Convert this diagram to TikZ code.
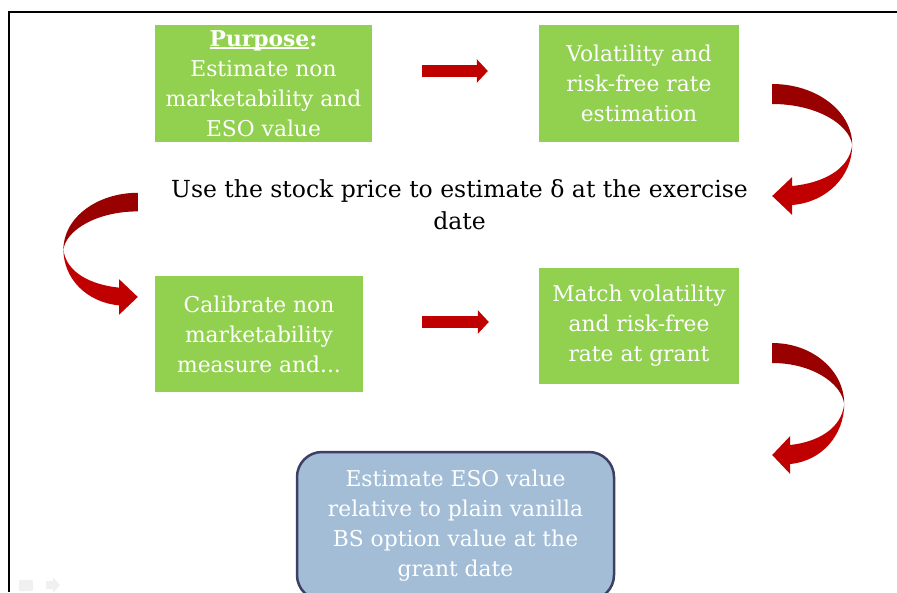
\documentclass[tikz,border=0pt]{standalone}
\usepackage{fontspec}
\setmainfont{DejaVu Serif}
\usepackage{tikz}
\usetikzlibrary{arrows.meta}
\usepackage{xcolor}

\definecolor{boxgreen}{HTML}{92D050}
\definecolor{boxblue}{HTML}{A2BDD5}
\definecolor{boxnavy}{HTML}{3C4066}
\definecolor{arrowred}{HTML}{C00000}
\definecolor{arrowdark}{HTML}{990000}

% underline sitting just under the baseline
\newcommand{\ulword}[1]{\setbox0\hbox{#1}\rlap{\rule[-2.5pt]{\wd0}{1.3pt}}\box0}

\tikzset{
    stepbox/.style={fill=boxgreen, text=white, align=center, inner sep=0pt,
        font=\fontsize{21.8}{30}\selectfont},
    flowarrow/.style={arrowred, line width=11.5pt,
        -{Triangle[length=11pt,width=23pt]}},
    % bent ribbon arrow: dark upper half, bright lower half with head
    bentarrow/.pic={
        \fill[arrowdark] (0,0) .. controls (44,0) and (80,27) .. (80,61)
            .. controls (77,40) and (44,20) .. (0,20) -- cycle;
        \fill[arrowred] (80,61) .. controls (80,92) and (55,118) .. (20,121)
            -- (20,131) -- (0,112) -- (20,93) -- (20,102)
            .. controls (50,99) and (77,86) .. (80,61) -- cycle;
    }
}

\begin{document}
\begin{tikzpicture}[x=1pt, y=-1pt]
    \useasboundingbox (0,0) rectangle (897,592);

    % Frame
    \draw[line width=2.5pt] (9,592) -- (9,12) -- (897,12);

    % Steps
    \node[stepbox, minimum width=217, minimum height=117] (purpose) at (263.5,83.5)
        {\textbf{\ulword{Purpose}:}\\Estimate non\\marketability and\\ESO value};
    \node[stepbox, minimum width=200, minimum height=117] (vol) at (639,83.5)
        {Volatility and\\risk-free rate\\estimation};
    \node[font=\fontsize{23.5}{32}\selectfont, align=center] (usestock) at (459.5,205)
        {Use the stock price to estimate δ at the exercise\\date};
    \node[stepbox, minimum width=208, minimum height=116] (calib) at (259,334)
        {Calibrate non\\marketability\\measure and...};
    \node[stepbox, minimum width=200, minimum height=116] (match) at (639,326)
        {Match volatility\\and risk-free\\rate at grant};

    % Final value
    \node[draw=boxnavy, line width=2.5pt, fill=boxblue, rounded corners=25pt,
        minimum width=317, minimum height=148, text=white, align=center,
        font=\fontsize{21.8}{30}\selectfont] (esovalue) at (455.5,526)
        {Estimate ESO value\\relative to plain vanilla\\BS option value at the\\grant date};

    % Straight arrows
    \draw[flowarrow] ([shift={(50,-12.5)}]purpose.east) -- ([shift={(-51,-12.5)}]vol.west);
    \draw[flowarrow] ([shift={(59,-12)}]calib.east) -- ([shift={(-50,-4)}]match.west);

    % Bent arrows
    \pic at ([shift={(33,0.5)}]vol.east) {bentarrow};
    \pic[xscale=-0.93, yscale=0.93] at ([shift={(-17,-83)}]calib.north west) {bentarrow};
    \pic[xscale=0.9] at ([shift={(33,17)}]match.east) {bentarrow};

    % Slide controls
    \fill[gray!12, rounded corners=1pt] (19,580) rectangle (33,591);
    \fill[gray!12] (46,581) -- (53,581) -- (53,577) -- (60,585) -- (53,593)
        -- (53,589) -- (46,589) -- cycle;
\end{tikzpicture}
\end{document}
